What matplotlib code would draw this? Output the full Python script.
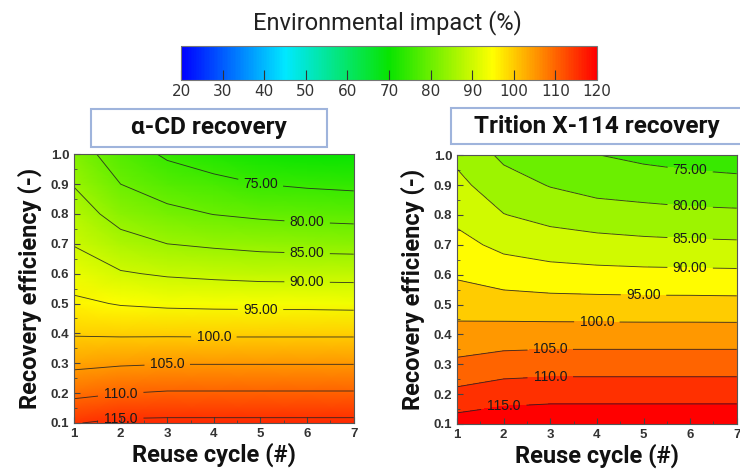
import numpy as np
import matplotlib
matplotlib.use("Agg")
import matplotlib.pyplot as plt
from matplotlib.colors import LinearSegmentedColormap, Normalize
from matplotlib.cm import ScalarMappable
from matplotlib.patches import Rectangle
from matplotlib.ticker import MultipleLocator

# axes of the grid
reuse_cycle = [1, 2, 3, 4, 5, 6, 7]
recovery_eff = [0.1, 0.2, 0.3, 0.4, 0.5, 0.6, 0.7, 0.8, 0.9, 1.0]

# environmental impact (%), rows = recovery efficiency, cols = reuse cycle
impact_acd = [
    [114.8, 115.9, 116.0, 116.0, 116.0, 116.0, 116.0],
    [108.9, 109.9, 110.4, 110.4, 110.4, 110.4, 110.4],
    [103.9, 104.5, 104.8, 104.8, 104.8, 104.8, 104.8],
    [99.6, 99.4, 99.4, 99.35, 99.35, 99.35, 99.35],
    [95.9, 94.7, 94.2, 94.0, 93.9, 93.9, 93.75],
    [92.7, 90.4, 89.5, 89.0, 88.6, 88.5, 88.4],
    [89.75, 86.7, 85.0, 84.3, 83.7, 83.4, 83.2],
    [87.25, 83.2, 81.2, 79.9, 79.2, 78.7, 78.4],
    [84.75, 80.0, 77.7, 76.3, 75.0, 74.4, 74.0],
    [82.3, 77.6, 74.3, 72.5, 71.0, 70.2, 69.8],
]

impact_tx = [
    [117.2, 118.2, 118.7, 118.7, 118.7, 118.7, 118.7],
    [111.3, 112.8, 113.2, 113.2, 113.2, 113.2, 113.2],
    [106.0, 107.3, 107.7, 107.7, 107.7, 107.7, 107.7],
    [101.7, 102.2, 102.3, 102.3, 102.3, 102.3, 102.3],
    [97.9, 97.2, 96.9, 96.8, 96.7, 96.7, 96.6],
    [94.4, 92.7, 91.9, 91.5, 91.3, 91.2, 91.1],
    [91.5, 88.8, 87.5, 86.8, 86.3, 86.0, 85.8],
    [88.8, 85.15, 83.4, 82.3, 81.7, 81.2, 81.0],
    [86.3, 82.1, 79.75, 78.2, 77.6, 77.0, 76.6],
    [83.9, 79.0, 76.2, 75.1, 73.9, 73.0, 72.4],
]

line_levels = [75, 80, 85, 90, 95, 100, 105, 110, 115]
band_levels = [70, 75, 80, 85, 90, 95, 100, 105, 110, 115, 120]
cbar_ticks = [20, 30, 40, 50, 60, 70, 80, 90, 100, 110, 120]
titles = ["α-CD recovery", "Trition X-114 recovery"]

# where the contour labels sit
label_pos_acd = [(5.0, 0.9), (6.0, 0.77), (6.0, 0.667), (6.0, 0.57), (5.0, 0.48),
                 (4.0, 0.388), (3.0, 0.296), (2.0, 0.2), (2.0, 0.12)]
label_pos_tx = [(6.0, 0.95), (6.0, 0.826), (6.0, 0.72), (6.0, 0.623), (5.0, 0.53),
                (4.0, 0.443), (3.0, 0.349), (3.0, 0.259), (2.0, 0.163)]

cmap = LinearSegmentedColormap.from_list(
    "impact", ["#0000ff", "#00e8ff", "#08e400", "#ffff00", "#ff0000"])
norm = Normalize(20, 120)

X, Y = np.meshgrid(reuse_cycle, recovery_eff)
Z1 = np.array(impact_acd)
Z2 = np.array(impact_tx)


def fmt(v):
    return f"{v:.2f}" if v < 100 else f"{v:.1f}"


def label_lines(ax, cs, pos):
    texts = ax.clabel(cs, fmt=fmt, fontsize=10, manual=pos, inline=True, inline_spacing=3)
    for t in texts:
        t.set_rotation(0)
        t.set_family("Liberation Sans")
        t.set_color("#1a1a1a")


fig = plt.figure(figsize=(7.4, 4.74), dpi=100)

ax1 = fig.add_axes([0.100, 0.1076, 0.378, 0.567])
ax2 = fig.add_axes([0.6176, 0.1055, 0.378, 0.567])

# left: smooth shading
ax1.pcolormesh(X, Y, Z1, cmap=cmap, norm=norm, shading="gouraud")
cs1 = ax1.contour(X, Y, Z1, levels=line_levels, colors="#222222", linewidths=0.65, alpha=0.85)
label_lines(ax1, cs1, label_pos_acd)

# right: filled bands, coloured by the upper level
band_colors = [cmap(norm(v)) for v in band_levels[1:]]
ax2.contourf(X, Y, Z2, levels=band_levels, colors=band_colors)
cs2 = ax2.contour(X, Y, Z2, levels=line_levels, colors="#222222", linewidths=0.65, alpha=0.85)
label_lines(ax2, cs2, label_pos_tx)

for ax in (ax1, ax2):
    ax.set_xlim(1, 7)
    ax.set_ylim(0.1, 1.0)
    ax.set_xticks(reuse_cycle)
    ax.set_yticks(recovery_eff)
    ax.set_yticklabels([f"{v:.1f}" for v in recovery_eff])
    ax.xaxis.set_minor_locator(MultipleLocator(0.5))
    ax.yaxis.set_minor_locator(MultipleLocator(0.05))
    ax.tick_params(which="both", direction="in", colors="#444444", labelcolor="#333333")
    ax.tick_params(which="major", length=4, labelsize=9.5)
    ax.tick_params(which="minor", length=2)
    for lab in ax.get_xticklabels() + ax.get_yticklabels():
        lab.set_fontweight("bold")
        lab.set_family("Liberation Sans")
    for sp in ax.spines.values():
        sp.set_color("#555555")
        sp.set_linewidth(0.8)
    ax.set_xlabel("Reuse cycle (#)", fontsize=17, fontweight="bold", family="Roboto",
                  color="#111111", labelpad=2)
    ax.set_ylabel("Recovery efficiency (-)", fontsize=17, fontweight="bold", family="Roboto",
                  color="#111111", labelpad=6)

# colorbar on top
cax = fig.add_axes([0.2446, 0.831, 0.5622, 0.072])
cb = fig.colorbar(ScalarMappable(norm=norm, cmap=cmap), cax=cax,
                  orientation="horizontal", ticks=cbar_ticks)
cb.ax.tick_params(direction="in", length=7, width=0.8, colors="#333333", labelsize=11, pad=3)
cb.outline.set_edgecolor("#777777")
cb.outline.set_linewidth(0.8)
fig.text(0.523, 0.952, "Environmental impact (%)", ha="center", va="center",
         fontsize=17, family="Roboto", color="#222222")

# boxed titles
boxes = [(0.123, 0.690, 0.319, 0.080), (0.6095, 0.696, 0.3946, 0.076)]
for (bx, by, bw, bh), t in zip(boxes, titles):
    fig.add_artist(Rectangle((bx, by), bw, bh, transform=fig.transFigure,
                             fc="white", ec="#9fb4dc", lw=1.5, clip_on=False))
    fig.text(bx + bw / 2, by + bh / 2, t, ha="center", va="center",
             fontsize=17.5, fontweight="bold", family="Roboto", color="#111111")

fig.savefig("out.png", dpi=100)
